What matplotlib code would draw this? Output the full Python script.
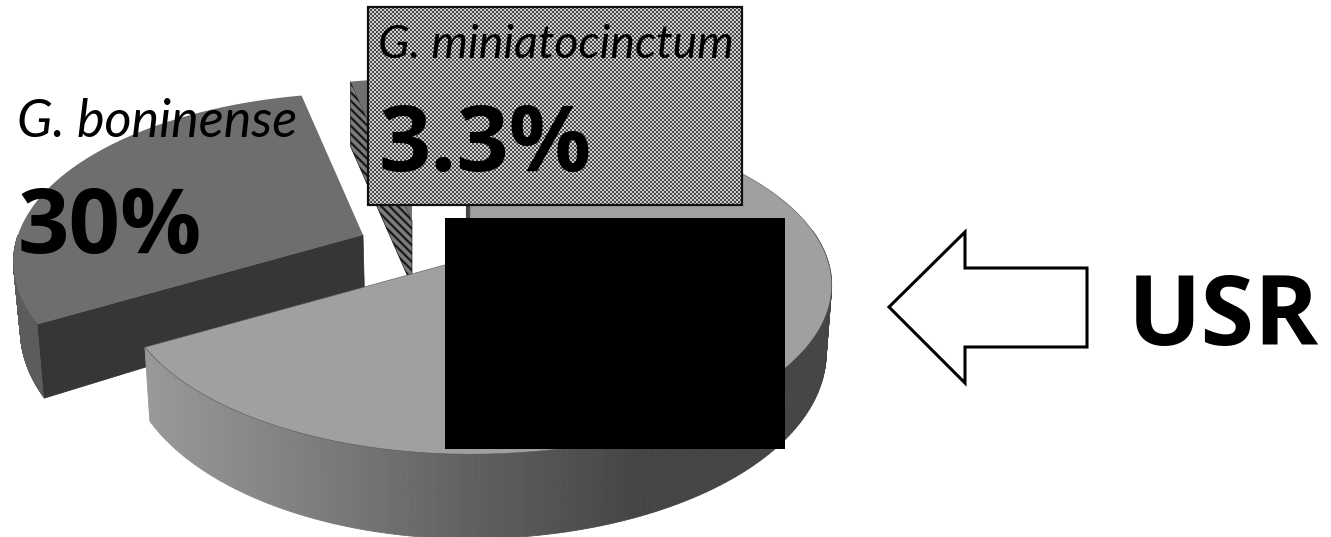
import numpy as np
import matplotlib
matplotlib.use('Agg')
import matplotlib.pyplot as plt
from matplotlib.patches import Polygon, Rectangle

# share of each species, clockwise from twelve o'clock
species = ['USR', 'G. boninense', 'G. miniatocinctum']
percent = [66.7, 30, 3.3]
percent_labels = ['30%', '3.3%']

WIDTH, HEIGHT = 1331, 537
CX, CY = 470, 258

plt.rcParams['hatch.linewidth'] = 1.6


def project(angle_deg, offset=(0, 0)):
    """Perspective view of a point on the rim of the unit disc, in pixels."""
    a = np.radians(angle_deg)
    u, v = np.cos(a), np.sin(a)
    w = 0.16 * v + 1
    x = CX + np.where(u < 0, 345, 357) * u / w
    y = (258 - 123.5 * v) / w
    return x + offset[0], y + offset[1]


def drop(x, y, base_y):
    """Same point on the lower face of the pie."""
    depth = 65 + 0.1 * np.maximum(0, base_y - CY)
    return CX + (x - CX) * 0.985, y + depth


def slice_outline(start, stop, offset=(0, 0)):
    angles = np.linspace(start, stop, 200)
    x, y = project(angles, offset)
    apex = (CX + offset[0], CY + offset[1])
    return np.vstack([[apex], np.column_stack([x, y])])


def side_band(ax, start, stop, offset, color_fn, zorder):
    angles = np.linspace(start, stop, 160)
    x, y = project(angles, offset)
    xb, yb = drop(x, y, y - offset[1])
    for i in range(len(angles) - 1):
        quad = [(x[i], y[i]), (x[i + 1], y[i + 1]), (xb[i + 1], yb[i + 1]), (xb[i], yb[i])]
        c = color_fn((x[i] + x[i + 1]) / 2)
        ax.add_patch(Polygon(quad, closed=True, facecolor=c, edgecolor=c, lw=0.6, zorder=zorder))


def grey_by_x(x):
    g = np.interp(x, [147, 300, 470, 640, 830], [0.60, 0.50, 0.38, 0.27, 0.27])
    return (g, g, g)


fig = plt.figure(figsize=(WIDTH / 100, HEIGHT / 100), dpi=100)
ax = fig.add_axes([0, 0, 1, 1])
ax.axis('off')

# slice boundaries, clockwise from the top
sweep = np.cumsum([0] + [p / sum(percent) * 360 for p in percent])
big_start, big_stop = 90 - sweep[1], 90 - sweep[0]
bon_start, bon_stop = 90 - sweep[2], 90 - sweep[1]
min_start, min_stop = 90 - sweep[3], 90 - sweep[2]

# small slice at the back, pulled away from the centre
min_off = (-58, -37)
corner = project(min_stop, min_off)
apex = (CX + min_off[0], CY + min_off[1])
corner_base = drop(corner[0], corner[1], corner[1])[1]
apex_base = drop(apex[0], apex[1], apex[1])[1]
ax.add_patch(Polygon([corner, apex, (apex[0], apex_base), (corner[0], corner_base)], closed=True,
                     facecolor='#7c7c7c', edgecolor='#1a1a1a', hatch='\\\\\\\\', lw=0.5, zorder=1))
ax.add_patch(Polygon(slice_outline(min_start, min_stop, min_off), closed=True,
                     facecolor='#707070', edgecolor='none', zorder=2))

# G. boninense slice, rim only shows below the widest point
bon_off = (-107, -23)
side_band(ax, -180, bon_stop, bon_off, lambda x: '#5c5c5c', 3)
corner = project(bon_stop, bon_off)
apex = (CX + bon_off[0], CY + bon_off[1])
corner_low = drop(corner[0], corner[1], corner[1] - bon_off[1])
apex_low = drop(apex[0], apex[1], CY)
ax.add_patch(Polygon([apex, corner, corner_low, apex_low], closed=True,
                     facecolor='#363636', edgecolor='#2e2e2e', lw=0.5, zorder=4))
ax.add_patch(Polygon(slice_outline(bon_start, bon_stop, bon_off), closed=True,
                     facecolor='#6e6e6e', edgecolor='none', zorder=5))

# main slice: shaded rim, cut face and top
side_band(ax, big_start, big_stop - 80, (0, 0), grey_by_x, 6)
top = project(big_stop)
ax.plot([top[0] - 2, CX - 2], [top[1], CY], color='#444444', lw=3, zorder=6)
ax.add_patch(Polygon(slice_outline(big_start, big_stop), closed=True,
                     facecolor='#a0a0a0', edgecolor='#555555', lw=0.4, zorder=7))

# block covering the label of the main slice
ax.add_patch(Rectangle((445, 218), 340, 231, facecolor='black', edgecolor='none', zorder=8))

# dithered label box
box_x0, box_x1, box_y0, box_y1 = 368, 742, 7, 205
ny, nx = (box_y1 - box_y0) // 2, (box_x1 - box_x0) // 2
checker = (np.indices((ny, nx)).sum(axis=0) % 2).astype(float)
ax.imshow(checker, cmap='gray', vmin=-0.55, vmax=1.35, extent=(box_x0, box_x1, box_y1, box_y0),
          interpolation='nearest', aspect='auto', zorder=9)
ax.add_patch(Rectangle((box_x0, box_y0), box_x1 - box_x0, box_y1 - box_y0, fill=False,
                       edgecolor='#111111', lw=1.6, zorder=10))

# labels
names_font = ['Lato', 'DejaVu Sans']
bold_font = ['Open Sans', 'DejaVu Sans']
ax.text(17, 137, species[1], family=names_font, style='italic', fontsize=37.5, color='black', zorder=11)
ax.text(18, 253, percent_labels[0], family=bold_font, weight='bold', fontsize=65, color='black', zorder=11)
ax.text(378, 58, species[2], family=names_font, style='italic', fontsize=33.5, color='black', zorder=11)
ax.text(378, 171, percent_labels[1], family=bold_font, weight='bold', fontsize=66, color='black', zorder=11)
ax.text(1128, 345, species[0], family=bold_font, weight='bold', fontsize=70, color='black', zorder=11)

# arrow pointing at the main slice
arrow = [(1087, 268), (965, 268), (965, 232), (889, 307), (965, 383), (965, 347), (1087, 347)]
ax.add_patch(Polygon(arrow, closed=True, facecolor='white', edgecolor='black', lw=2.2, zorder=11))

ax.set_xlim(0, WIDTH)
ax.set_ylim(HEIGHT, 0)
fig.savefig('out.png', dpi=100, facecolor='white')
